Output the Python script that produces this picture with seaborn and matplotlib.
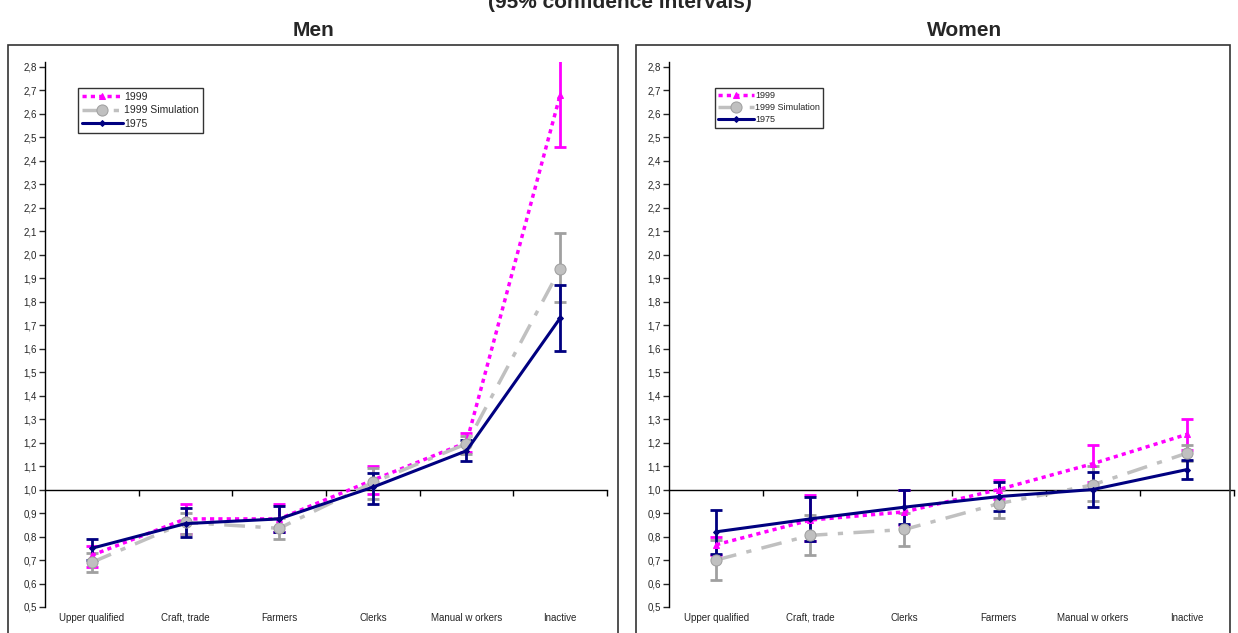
import matplotlib
matplotlib.use("Agg")
import matplotlib.pyplot as plt
from matplotlib.patches import Rectangle
from matplotlib.ticker import FuncFormatter, MultipleLocator
import numpy as np
import seaborn as sns

# categories (order differs between panels)
men_cats = ["Upper qualified", "Craft, trade", "Farmers", "Clerks", "Manual w orkers", "Inactive"]
women_cats = ["Upper qualified", "Craft, trade", "Clerks", "Farmers", "Manual w orkers", "Inactive"]

# Men: estimate, low, high
men_1999 = [0.72, 0.875, 0.875, 1.04, 1.20, 2.68]
men_1999_lo = [0.67, 0.81, 0.82, 0.98, 1.16, 2.46]
men_1999_hi = [0.76, 0.94, 0.94, 1.10, 1.24, 2.90]
men_sim = [0.69, 0.86, 0.835, 1.03, 1.195, 1.94]
men_sim_lo = [0.65, 0.81, 0.79, 0.96, 1.15, 1.80]
men_sim_hi = [0.73, 0.90, 0.88, 1.09, 1.23, 2.09]
men_1975 = [0.75, 0.855, 0.875, 1.01, 1.165, 1.73]
men_1975_lo = [0.70, 0.80, 0.82, 0.94, 1.12, 1.59]
men_1975_hi = [0.79, 0.92, 0.93, 1.07, 1.21, 1.87]

# Women
women_1999 = [0.765, 0.87, 0.905, 1.00, 1.11, 1.235]
women_1999_lo = [0.72, 0.78, 0.85, 0.96, 1.03, 1.17]
women_1999_hi = [0.80, 0.975, 1.00, 1.04, 1.19, 1.30]
women_sim = [0.70, 0.805, 0.83, 0.94, 1.02, 1.155]
women_sim_lo = [0.615, 0.72, 0.76, 0.88, 0.95, 1.12]
women_sim_hi = [0.785, 0.89, 0.90, 1.00, 1.10, 1.19]
women_1975 = [0.82, 0.875, 0.925, 0.97, 1.00, 1.085]
women_1975_lo = [0.725, 0.78, 0.855, 0.91, 0.925, 1.045]
women_1975_hi = [0.915, 0.97, 1.00, 1.03, 1.075, 1.125]

sns.set_style("white")
plt.rcParams["font.family"] = ["Liberation Sans", "DejaVu Sans"]

fig = plt.figure(figsize=(12.38, 6.33), dpi=100)
W, H = 1238, 633


def fx(px):
    return px / W


def fy(py):
    return 1 - py / H


styles = [
    ("1999", "#ff00ff", (0, (1.2, 1.2)), "^", 4, "#ff00ff", "#ff00ff"),
    ("1999 Simulation", "#c0c0c0", (0, (6, 3, 1.5, 3)), "o", 8, "#c0c0c0", "#a0a0a0"),
    ("1975", "#000080", "-", "D", 3, "#000080", "#000080"),
]


def panel(ax, cats, series, fs_leg, leg_box):
    x = np.arange(len(cats))
    for (name, col, ls, mk, ms, mfc, ecol), (v, lo, hi) in zip(styles, series):
        v, lo, hi = np.array(v), np.array(lo), np.array(hi)
        ax.errorbar(x, v, yerr=[v - lo, hi - v], fmt="none", ecolor=ecol,
                    elinewidth=2, capsize=4, capthick=2, zorder=2)
        sns.lineplot(x=x, y=v, ax=ax, color=col, linestyle=ls, linewidth=2.5 if name != "1975" else 2.2,
                     marker=mk, markersize=ms, markerfacecolor=mfc, markeredgecolor=ecol,
                     label=name, zorder=3)
    ax.set_xlim(-0.5, len(cats) - 0.5)
    ax.set_ylim(0.5, 2.82)
    ax.yaxis.set_major_locator(MultipleLocator(0.1))
    ax.yaxis.set_major_formatter(FuncFormatter(lambda v, p: f"{v:.1f}".replace(".", ",")))
    ax.tick_params(axis="y", labelsize=7, length=4, direction="out", left=True, width=1, pad=2)
    ax.set_xticks(x)
    ax.set_xticklabels(cats, fontsize=7)
    ax.tick_params(axis="x", length=0, pad=4)
    for s in ["top", "right", "bottom"]:
        ax.spines[s].set_visible(False)
    ax.spines["left"].set_color("black")
    ax.spines["left"].set_linewidth(1)
    # horizontal axis crossing at 1.0 with ticks between categories
    loc = (1.0 - 0.5) / (2.82 - 0.5)
    sec = ax.secondary_xaxis(loc)
    sec.set_xticks(np.arange(0.5, len(cats), 1.0))
    sec.set_xticklabels([])
    sec.tick_params(length=4, direction="out", width=1, color="black")
    sec.spines["bottom"].set_color("black")
    sec.spines["bottom"].set_linewidth(1)
    ax.set_xlabel("")
    ax.set_ylabel("")
    leg = ax.legend(loc="upper left", bbox_to_anchor=leg_box, bbox_transform=fig.transFigure,
                    fontsize=fs_leg, frameon=True, fancybox=False, edgecolor="black",
                    borderpad=0.35, handlelength=4, handletextpad=0.1, labelspacing=0.35,
                    borderaxespad=0)
    leg.get_frame().set_linewidth(1)


ax1 = fig.add_axes([fx(45), fy(607), fx(607 - 45), fy(62) - fy(607)])
panel(ax1, men_cats,
      [(men_1999, men_1999_lo, men_1999_hi), (men_sim, men_sim_lo, men_sim_hi),
       (men_1975, men_1975_lo, men_1975_hi)], 7.5, (fx(78), fy(88)))

ax2 = fig.add_axes([fx(669), fy(607), fx(1234 - 669), fy(62) - fy(607)])
panel(ax2, women_cats,
      [(women_1999, women_1999_lo, women_1999_hi), (women_sim, women_sim_lo, women_sim_hi),
       (women_1975, women_1975_lo, women_1975_hi)], 6.5, (fx(715), fy(88)))

# panel frames
fig.patches.append(Rectangle((fx(8), fy(640)), fx(618 - 8), fy(45) - fy(640), transform=fig.transFigure,
                             fill=False, edgecolor="#333333", linewidth=1.2))
fig.patches.append(Rectangle((fx(636), fy(640)), fx(1230 - 636), fy(45) - fy(640), transform=fig.transFigure,
                             fill=False, edgecolor="#333333", linewidth=1.2))

fig.text(fx(313), fy(30), "Men", ha="center", va="center", fontsize=15, fontweight="bold",
         family=["Liberation Sans Narrow", "Liberation Sans"])
fig.text(fx(965), fy(30), "Women", ha="center", va="center", fontsize=15, fontweight="bold",
         family=["Liberation Sans Narrow", "Liberation Sans"])
fig.text(fx(620), fy(2), "(95% confidence intervals)", ha="center", va="center", fontsize=15,
         fontweight="bold", family=["Liberation Sans Narrow", "Liberation Sans"])

fig.savefig("out.png", dpi=100)
